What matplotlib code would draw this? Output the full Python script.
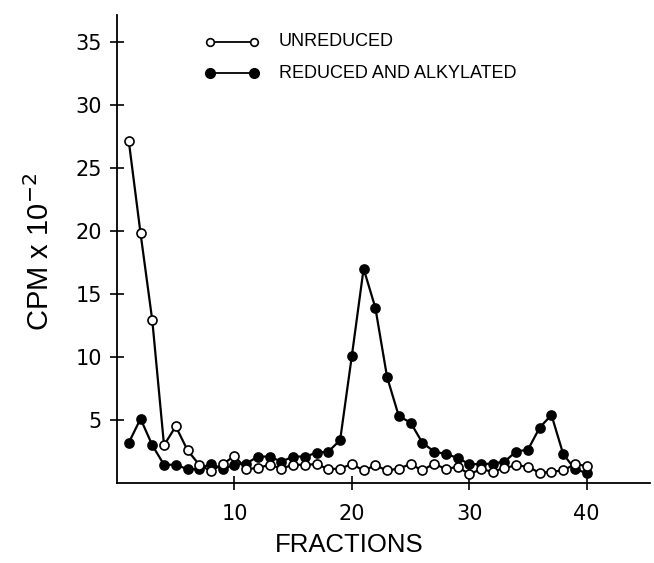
import matplotlib
matplotlib.use("Agg")
import matplotlib.pyplot as plt

plt.rcParams["font.family"] = ["Liberation Sans", "DejaVu Sans"]

fractions = list(range(1, 41))
unreduced = [27.1, 19.8, 12.9, 3.0, 4.5, 2.6, 1.45, 0.95, 1.5, 2.15,
             1.1, 1.2, 1.45, 1.15, 1.45, 1.45, 1.5, 1.1, 1.15, 1.5,
             1.0, 1.4, 1.0, 1.15, 1.5, 1.0, 1.55, 1.1, 1.3, 0.7,
             1.1, 0.9, 1.2, 1.4, 1.3, 0.8, 0.9, 1.0, 1.5, 1.35]
reduced = [3.2, 5.1, 3.0, 1.45, 1.45, 1.1, 1.1, 1.55, 1.1, 1.45,
           1.55, 2.1, 2.1, 1.7, 2.1, 2.1, 2.4, 2.5, 3.4, 10.1,
           17.0, 13.9, 8.4, 5.3, 4.8, 3.2, 2.5, 2.3, 2.0, 1.5,
           1.5, 1.55, 1.7, 2.5, 2.65, 4.4, 5.4, 2.3, 1.1, 0.8]
xticks = [10, 20, 30, 40]
yticks = [5, 10, 15, 20, 25, 30, 35]

fig = plt.figure(figsize=(6.54, 5.63), dpi=100)
ax = fig.add_axes([0.179, 0.142, 0.815, 0.831])

mk = dict(markersize=6.5, lw=1.6, color="black", markeredgewidth=1.2)
ax.plot(fractions, reduced, "o-", markerfacecolor="black", zorder=3, **mk)
ax.plot(fractions, unreduced, "o-", markerfacecolor="white", zorder=4, **mk)

ax.set_xlim(0, 45.4)
ax.set_ylim(0, 37.1)
ax.set_xticks(xticks)
ax.set_yticks(yticks)
ax.tick_params(direction="inout", length=10, width=1.2, labelsize=15, pad=6)
ax.tick_params(axis="x", pad=10)
for lab in ax.get_xticklabels() + ax.get_yticklabels():
    lab.set_family("DejaVu Sans")
for s in ("top", "right"):
    ax.spines[s].set_visible(False)
for s in ("left", "bottom"):
    ax.spines[s].set_linewidth(1.3)

fig.text(0.534, 0.032, "FRACTIONS", fontsize=18.5, ha="center", va="center")
fig.text(0.061, 0.552, "CPM x 10$^{-2}$", fontsize=21,
         rotation=90, ha="center", va="center")

# legend drawn by hand
ax.plot([7.95, 11.7], [35.0, 35.0], "o-", markerfacecolor="white", markersize=5.5,
        lw=1.3, color="black", markeredgewidth=1.2, clip_on=False)
ax.plot([7.95, 11.7], [32.5, 32.5], "o-", markerfacecolor="black", markersize=7,
        lw=1.3, color="black", clip_on=False)
ax.text(13.8, 35.0, "UNREDUCED", fontsize=13, va="center")
ax.text(13.8, 32.5, "REDUCED AND ALKYLATED", fontsize=13, va="center")

fig.savefig("out.png", dpi=100)
